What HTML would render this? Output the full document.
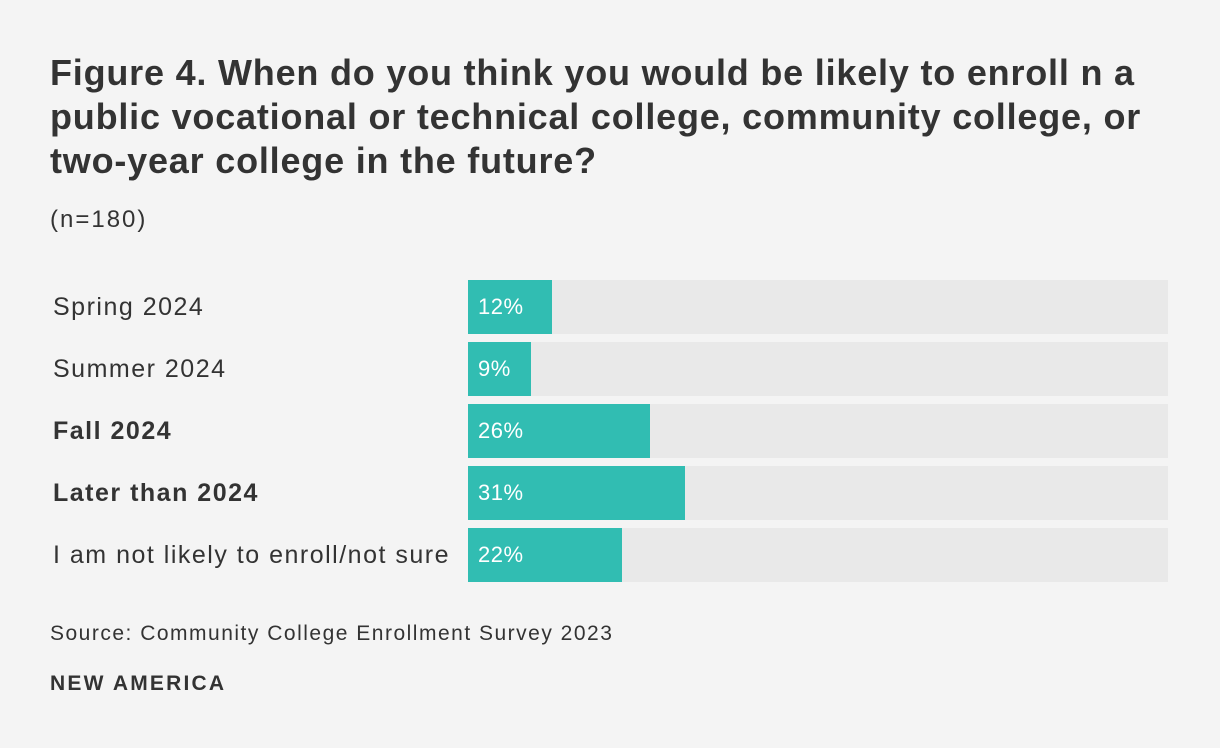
<!DOCTYPE html>
<html><head><meta charset="utf-8"><style>
body{margin:0;background:#f4f4f4;width:1220px;height:748px;overflow:hidden;font-family:"Liberation Sans",sans-serif;color:#333}
#title{position:absolute;left:50px;top:51px;width:1160px;font-size:36px;font-weight:bold;line-height:44px;margin:0;color:#333;white-space:nowrap;letter-spacing:0.8px}
#n{position:absolute;left:50px;top:206px;font-size:24px;letter-spacing:2px}
.lbl{position:absolute;left:53px;font-size:25px;line-height:54px;letter-spacing:1.5px;white-space:nowrap}
.track{position:absolute;left:468px;width:700px;height:54px;background:#e9e9e9}
.bar{position:absolute;left:468px;height:54px;background:#31bdb2;color:#fff;font-size:22px;line-height:54px;box-sizing:border-box;padding-left:10px;letter-spacing:0.5px}
#src{position:absolute;left:50px;top:622px;font-size:21px;letter-spacing:1.5px}
#brand{position:absolute;left:50px;top:672px;font-size:21px;font-weight:bold;letter-spacing:2.2px}
</style></head><body>
<h1 id="title">Figure 4. When do you think you would be likely to enroll n a<br>public vocational or technical college, community college, or<br>two-year college in the future?</h1>
<div id="n">(n=180)</div>
<div id="chart"></div>
<div id="src">Source: Community College Enrollment Survey 2023</div>
<div id="brand">NEW AMERICA</div>
<script>
const categories=["Spring 2024","Summer 2024","Fall 2024","Later than 2024","I am not likely to enroll/not sure"];
const values=[12,9,26,31,22];
const boldFlags=[false,false,true,true,false];
const chart=document.getElementById('chart');
const x=v=>v/100*700;
categories.forEach((c,i)=>{
  const top=280+i*62;
  const l=document.createElement('div');l.className='lbl';l.style.top=top+'px';l.textContent=c;
  if(boldFlags[i])l.style.fontWeight='bold';
  
  
  chart.appendChild(l);
  const t=document.createElement('div');t.className='track';t.style.top=top+'px';
  
  
  chart.appendChild(t);
  const b=document.createElement('div');b.className='bar';b.style.top=top+'px';b.style.width=x(values[i])+'px';b.textContent=values[i]+'%';
  
  
  chart.appendChild(b);
});
</script>
</body></html>
